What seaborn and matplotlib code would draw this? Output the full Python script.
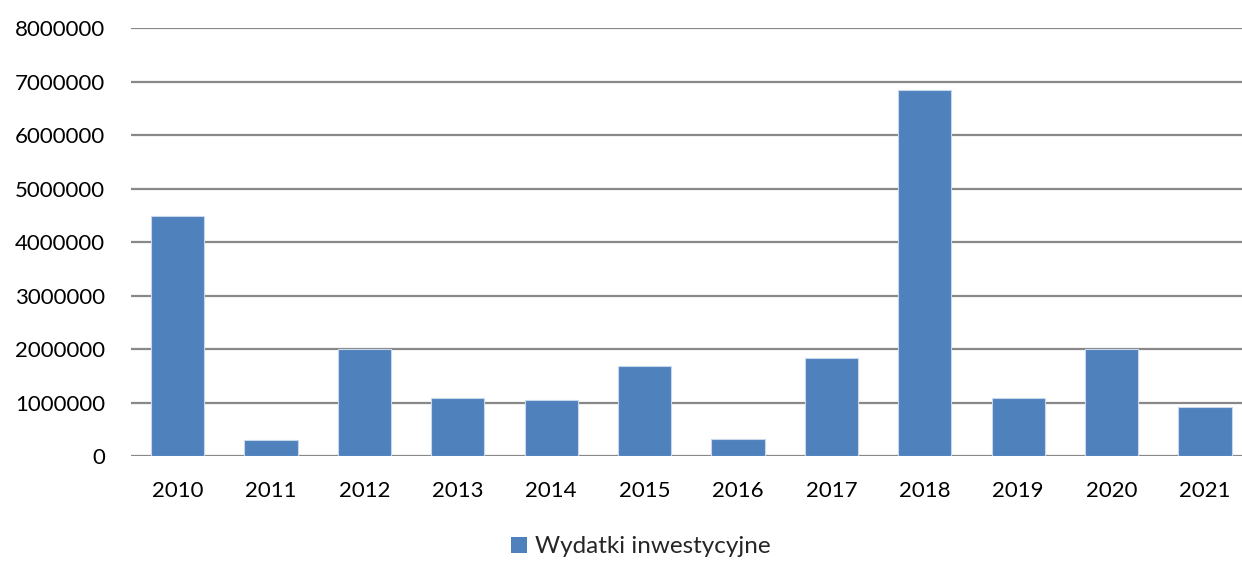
import matplotlib
matplotlib.use("Agg")
import matplotlib.pyplot as plt
import seaborn as sns
import pandas as pd
from matplotlib.patches import Patch

# values
years = ["2010", "2011", "2012", "2013", "2014", "2015",
         "2016", "2017", "2018", "2019", "2020", "2021"]
wydatki = [4480000, 310000, 2000000, 1090000, 1040000, 1680000,
           325000, 1835000, 6835000, 1080000, 2005000, 917000]
series_name = "Wydatki inwestycyjne"
y_ticks = [0, 1000000, 2000000, 3000000, 4000000, 5000000, 6000000, 7000000, 8000000]

df = pd.DataFrame({"Rok": years, "Wartosc": wydatki})

sns.set_theme(style="white")
plt.rcParams["font.family"] = ["Lato", "DejaVu Sans"]

bar_color = "#4F81BD"
grid_color = "#888888"

fig = plt.figure(figsize=(12.42, 5.61), dpi=100)
# plot area runs slightly past the right edge of the picture, as in the original
ax = fig.add_axes([0.1053, 0.187, 0.9025, 0.763])

sns.barplot(data=df, x="Rok", y="Wartosc", color=bar_color, width=0.57,
            saturation=1, edgecolor="#c9d7ea", linewidth=0.8, ax=ax, zorder=3)

ax.set_ylim(0, 8000000)
ax.set_yticks(y_ticks)
ax.set_yticklabels([str(v) for v in y_ticks])
ax.set_xlim(-0.5, len(years) - 0.5)

for v in y_ticks:
    ax.axhline(v, color=grid_color, linewidth=1.6, zorder=1)

for s in ax.spines.values():
    s.set_visible(False)

ax.tick_params(axis="both", length=0, labelsize=16, colors="#000000")
ax.tick_params(axis="y", pad=18.5)
ax.tick_params(axis="x", pad=18)
ax.set_xlabel("")
ax.set_ylabel("")

handle = Patch(facecolor=bar_color, edgecolor="none")
fig.legend([handle], [series_name], loc="center", bbox_to_anchor=(0.516, 0.025),
           frameon=False, fontsize=17.5, handlelength=0.65, handleheight=0.65,
           handletextpad=0.35)

fig.savefig("out.png", dpi=100)
